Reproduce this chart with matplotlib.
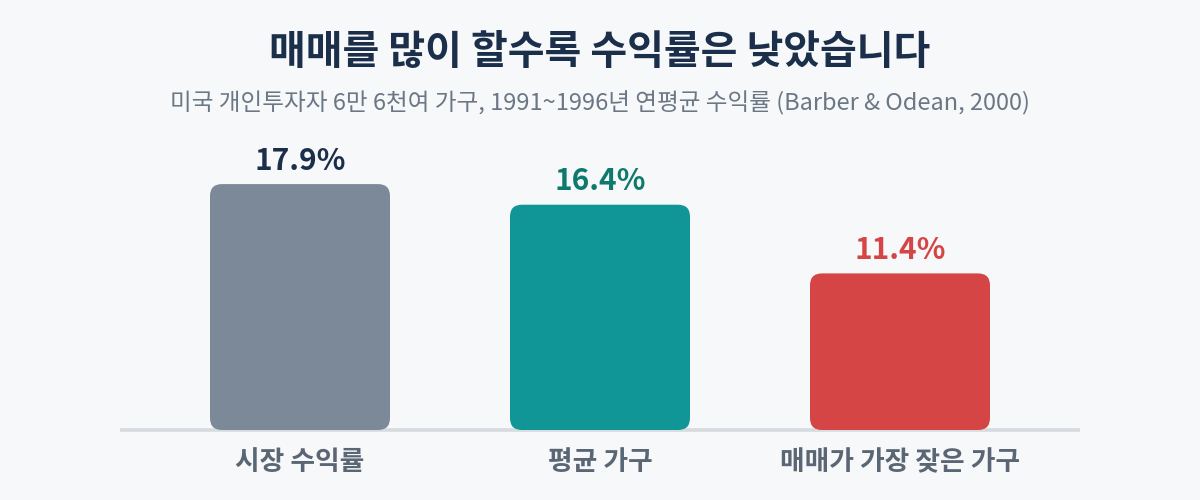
import matplotlib
matplotlib.use("Agg")
import matplotlib.pyplot as plt
from matplotlib.patches import FancyBboxPatch

plt.rcParams['font.family'] = ['Noto Sans CJK KR', 'DejaVu Sans']

categories = ["시장 수익률", "평균 가구", "매매가 가장 잦은 가구"]
returns = [17.9, 16.4, 11.4]
value_labels = ["17.9%", "16.4%", "11.4%"]
bar_colors = ["#7b8999", "#109696", "#d64545"]
label_colors = ["#1b2f4b", "#0e7a6e", "#d64545"]

BG = "#f7f8fa"
W, H = 1200, 500
fig = plt.figure(figsize=(12, 5), dpi=100, facecolor=BG)

# axes placed in pixel terms: x 120..1080, baseline at y=430, top at y=130
ax = fig.add_axes([120 / W, 1 - 430 / H, 960 / W, 300 / H])
ax.set_facecolor(BG)
px_per_unit = 245.9 / 17.9
ax.set_xlim(-0.6, 2.6)
ax.set_ylim(0, 300 / px_per_unit)

bar_w = 0.6
r_x = 12 / 300
r_y = 12 / px_per_unit
for i, (v, c) in enumerate(zip(returns, bar_colors)):
    patch = FancyBboxPatch((i - bar_w / 2, 0), bar_w, v,
                           boxstyle=f"round,pad=0,rounding_size={r_x}",
                           mutation_aspect=r_y / r_x,
                           facecolor=c, edgecolor="none", zorder=3)
    ax.add_patch(patch)
    ax.text(i, v + 0.6, value_labels[i], ha='center', va='bottom',
            fontsize=21.5, fontweight='bold', color=label_colors[i])

ax.axhline(0, color="#d6dbdf", linewidth=2.6, zorder=2, clip_on=False,
           solid_capstyle='butt')
ax.set_xticks(range(len(categories)))
ax.set_xticklabels(categories, fontsize=19.3, fontweight='bold', color="#5b6675")
ax.tick_params(axis='x', length=0, pad=13)
ax.set_yticks([])
for s in ax.spines.values():
    s.set_visible(False)

fig.text(0.5, 1 - 53 / H, "매매를 많이 할수록 수익률은 낮았습니다", ha='center', va='center',
         fontsize=28.8, fontweight='bold', color="#1b2f4b")
fig.text(0.5, 1 - 103 / H,
         "미국 개인투자자 6만 6천여 가구, 1991~1996년 연평균 수익률 (Barber & Odean, 2000)",
         ha='center', va='center', fontsize=17, color="#6b7785")

fig.savefig("out.png", dpi=100, facecolor=BG)
